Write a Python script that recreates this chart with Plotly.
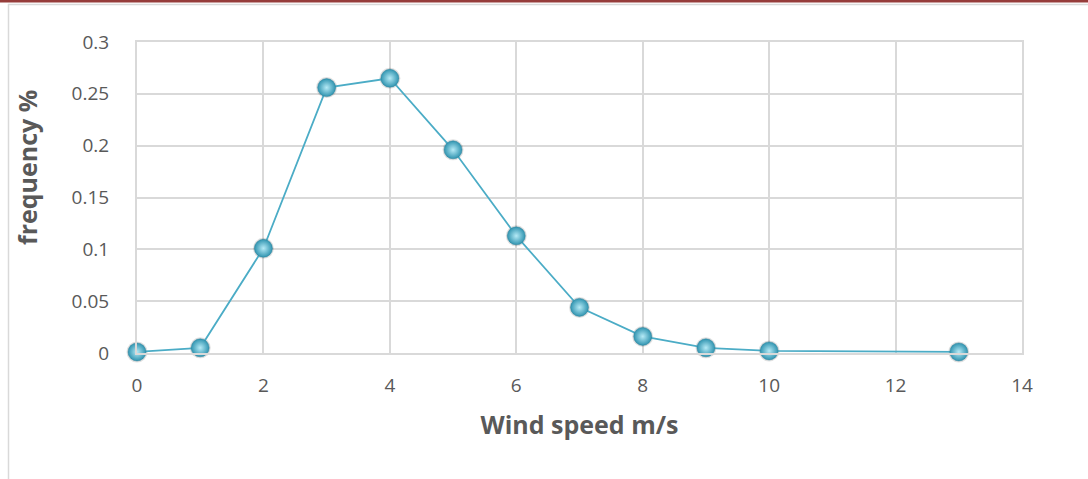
import plotly.graph_objects as go

wind_speed = [0, 1, 2, 3, 4, 5, 6, 7, 8, 9, 10, 13]
frequency = [0.001, 0.005, 0.101, 0.256, 0.265, 0.196, 0.113, 0.044, 0.016, 0.005, 0.002, 0.001]

x_ticks = [0, 2, 4, 6, 8, 10, 12, 14]
y_ticks = [0, 0.05, 0.1, 0.15, 0.2, 0.25, 0.3]
y_tick_text = ["0", "0.05", "0.1", "0.15", "0.2", "0.25", "0.3"]

W, H = 1088, 479
L, R, T, B = 137, 66, 42, 126
pw, ph = W - L - R, H - T - B

def px_x(p):
    return (p - L) / pw

def px_y(p):
    return (H - B - p) / ph

FONT = "Open Sans"
GRID = "#D9D9D9"
TEXT = "#595959"

fig = go.Figure()
fig.add_trace(go.Scatter(
    x=wind_speed, y=frequency, mode="markers", hoverinfo="skip", cliponaxis=False,
    marker=dict(size=21, color="rgba(0,0,0,0.12)", line=dict(width=0)),
    showlegend=False,
))
fig.add_trace(go.Scatter(
    x=wind_speed, y=frequency, mode="lines+markers", cliponaxis=False,
    line=dict(color="#4BACC6", width=1.75),
    marker=dict(size=18, color="#3094B0",
                gradient=dict(type="radial", color="#B5EAF6"),
                line=dict(width=0.5, color="#2A819A")),
    showlegend=False,
))

fig.update_layout(
    width=W, height=H,
    margin=dict(l=L, r=R, t=T, b=B),
    paper_bgcolor="white", plot_bgcolor="white",
    font=dict(family=FONT, color=TEXT, size=19),
    xaxis=dict(
        range=[0, 14], tickvals=x_ticks, showgrid=True, gridcolor=GRID, gridwidth=2,
        zeroline=False, showline=True, linecolor=GRID, linewidth=2, mirror=True,
        ticks="", ticklabelstandoff=14, tickfont=dict(size=19, color=TEXT),
        title=dict(text="<b>Wind speed m/s</b>", font=dict(size=25, color=TEXT), standoff=20),
    ),
    yaxis=dict(
        range=[0, 0.3], tickvals=y_ticks, ticktext=y_tick_text, showgrid=True,
        gridcolor=GRID, gridwidth=2, zeroline=False, showline=True, linecolor=GRID,
        linewidth=2, mirror=True, ticks="", ticklabelstandoff=22,
        tickfont=dict(size=19, color=TEXT),
    ),
    annotations=[
        dict(text="<b>frequency %</b>", xref="paper", yref="paper", x=px_x(27), y=px_y(168),
             xanchor="center", yanchor="middle", textangle=-90, showarrow=False,
             font=dict(family=FONT, size=25, color=TEXT)),
    ],
    shapes=[
        dict(type="line", xref="paper", yref="paper", x0=px_x(0), x1=px_x(W), y0=px_y(1), y1=px_y(1),
             line=dict(color="#963C3A", width=3)),
        dict(type="line", xref="paper", yref="paper", x0=px_x(8), x1=px_x(W), y0=px_y(4.5), y1=px_y(4.5),
             line=dict(color=GRID, width=1.5)),
        dict(type="line", xref="paper", yref="paper", x0=px_x(8.5), x1=px_x(8.5), y0=px_y(4), y1=px_y(H),
             line=dict(color=GRID, width=1.5)),
    ],
)

fig.write_html("out.html")
